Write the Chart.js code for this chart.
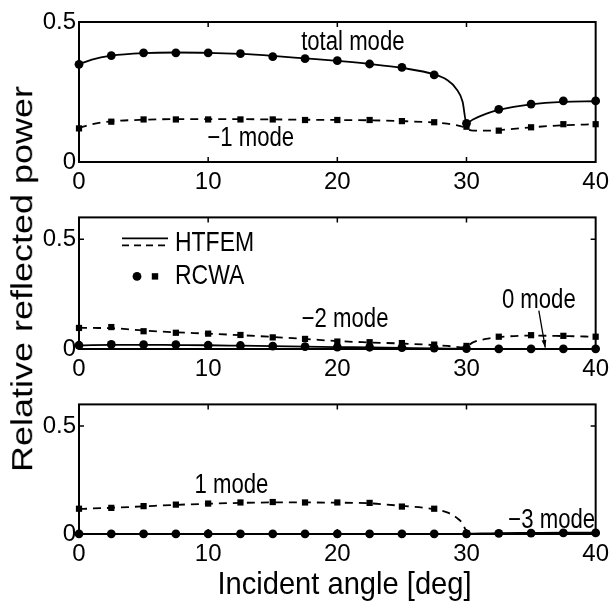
<!DOCTYPE html>
<html>
<head>
<meta charset="utf-8">
<script src="https://cdn.jsdelivr.net/npm/chart.js@4.4.0/dist/chart.umd.min.js"></script>
<style>
  html, body { margin: 0; padding: 0; background: #fff; }
  body { width: 615px; height: 608px; position: relative; overflow: hidden; }
  canvas { position: absolute; left: 0; }
  #ylabel {
    position: absolute; left: -187.5px; top: 261px; width: 420px; height: 36px;
    line-height: 36px; text-align: center; white-space: nowrap;
    font-family: "Liberation Sans", Arial, sans-serif; font-size: 36px; color: #000;
    transform: rotate(-90deg) scale(1, 0.8);
  }
  #xlabel {
    position: absolute; left: 37px; top: 567px; width: 615px; height: 32px;
    line-height: 32px; text-align: center; white-space: nowrap;
    font-family: "Liberation Sans", Arial, sans-serif; font-size: 32px; color: #000;
    transform: scale(0.91, 1);
  }
</style>
</head>
<body>
<canvas id="top" width="615" height="200" style="top:0px;width:615px;height:200px"></canvas>
<canvas id="mid" width="615" height="187" style="top:200px;width:615px;height:187px"></canvas>
<canvas id="bot" width="615" height="221" style="top:387px;width:615px;height:221px"></canvas>
<div id="ylabel">Relative reflected power</div>
<div id="xlabel">Incident angle [deg]</div>
<script>
// angles (deg)
const rcwaAngles = [0, 2.5, 5, 7.5, 10, 12.5, 15, 17.5, 20, 22.5, 25, 27.5, 30, 32.5, 35, 37.5, 40];
const htfemAngles = [0, 1, 2.5, 5, 7.5, 10, 12.5, 15, 17.5, 20, 22.5, 25, 27.5, 28.5, 29.2, 29.7, 30, 30.5, 31.5, 32.5, 35, 37.5, 40];
const xTicks = [0, 10, 20, 30, 40];
const yTicks = [0, 0.5];

// top panel: total and -1 modes
const totalHtfem = [0.349, 0.366, 0.380, 0.389, 0.391, 0.390, 0.386, 0.379, 0.370, 0.361, 0.350, 0.336, 0.313, 0.293, 0.262, 0.215, 0.138, 0.152, 0.172, 0.186, 0.206, 0.215, 0.217];
const totalRcwa = [0.349, 0.380, 0.390, 0.390, 0.390, 0.387, 0.376, 0.369, 0.362, 0.350, 0.338, 0.311, 0.138, 0.188, 0.207, 0.218, 0.218];
const minus1Htfem = [0.122, 0.135, 0.145, 0.151, 0.153, 0.153, 0.153, 0.152, 0.151, 0.150, 0.149, 0.146, 0.141, 0.137, 0.132, 0.126, 0.118, 0.112, 0.112, 0.114, 0.124, 0.131, 0.135];
const minus1Rcwa = [0.120, 0.144, 0.152, 0.152, 0.152, 0.152, 0.152, 0.150, 0.150, 0.150, 0.146, 0.142, 0.126, 0.112, 0.124, 0.135, 0.135];

// middle panel: -2 and 0 modes
const minus2Htfem = [0.097, 0.096, 0.095, 0.084, 0.076, 0.070, 0.063, 0.055, 0.046, 0.036, 0.030, 0.025, 0.018, 0.014, 0.010, 0.007, 0.010, 0.030, 0.046, 0.054, 0.061, 0.059, 0.056];
const minus2Rcwa = [0.096, 0.100, 0.081, 0.074, 0.070, 0.064, 0.053, 0.046, 0.034, 0.031, 0.027, 0.020, 0.014, 0.056, 0.063, 0.060, 0.056];
const zeroHtfem = [0.016, 0.018, 0.019, 0.019, 0.018, 0.017, 0.015, 0.013, 0.011, 0.009, 0.007, 0.005, 0.003, 0.002, 0.002, 0.001, 0.001, 0.001, 0.001, 0.001, 0.001, 0.001, 0.001];
const zeroRcwa = [0.017, 0.021, 0.020, 0.020, 0.017, 0.016, 0.013, 0.011, 0.009, 0.008, 0.006, 0.004, 0.002, 0.001, 0.001, 0.001, 0.001];

// bottom panel: 1 and -3 modes (1 mode ends at 30 deg)
const plus1Htfem = [0.115, 0.118, 0.121, 0.128, 0.135, 0.140, 0.144, 0.146, 0.146, 0.145, 0.142, 0.130, 0.115, 0.100, 0.077, 0.048, 0.008];
const plus1Rcwa = [0.117, 0.121, 0.129, 0.136, 0.141, 0.146, 0.148, 0.146, 0.146, 0.144, 0.127, 0.117, 0.003];
const minus3Htfem = [0.001, 0.001, 0.001, 0.001, 0.001, 0.001, 0.001, 0.001, 0.001, 0.001, 0.001, 0.001, 0.001, 0.001, 0.001, 0.001, 0.001, 0.002, 0.003, 0.004, 0.005, 0.006, 0.006];
const minus3Rcwa = [0.001, 0.001, 0.001, 0.001, 0.001, 0.001, 0.001, 0.001, 0.001, 0.001, 0.001, 0.001, 0.001, 0.003, 0.004, 0.005, 0.005];

const FONT = '"Liberation Sans", Arial, sans-serif';

function pairs(xs, ys) {
    return ys.map((y, i) => ({ x: xs[i], y }));
}

function curve(ys, dashed) {
    return {
        data: pairs(htfemAngles, ys),
        borderColor: '#000',
        borderWidth: 1.8,
        borderDash: dashed ? [8, 6] : [],
        pointRadius: 0,
        cubicInterpolationMode: 'monotone',
        clip: false
    };
}

function marks(ys, style) {
    return {
        data: pairs(rcwaAngles, ys),
        showLine: false,
        pointStyle: style,
        pointRadius: 4.4,
        backgroundColor: '#000',
        borderColor: '#000',
        borderWidth: 0,
        clip: false
    };
}

// condensed text, like the squeezed lettering of the original figure
function narrowText(ctx, text, x, y, size, align) {
    const sx = 0.82;
    ctx.save();
    ctx.font = size + 'px ' + FONT;
    ctx.textAlign = align;
    ctx.textBaseline = 'middle';
    ctx.translate(x, y);
    ctx.scale(sx, 1);
    ctx.fillText(text, 0, 0);
    ctx.restore();
}

// box, inward ticks, mode labels, legend and arrow
const decor = {
    id: 'decor',
    afterDatasetsDraw(chart, args, opts) {
        const ctx = chart.ctx;
        const a = chart.chartArea;
        const xs = chart.scales.x, ys = chart.scales.y;
        ctx.save();
        ctx.strokeStyle = '#000';
        ctx.fillStyle = '#000';
        ctx.lineWidth = 2;
        ctx.setLineDash([]);
        ctx.strokeRect(a.left, a.top, a.right - a.left, a.bottom - a.top);
        ctx.lineWidth = 1.5;
        ctx.beginPath();
        xTicks.slice(1, -1).forEach(v => {
            const px = xs.getPixelForValue(v);
            ctx.moveTo(px, a.bottom); ctx.lineTo(px, a.bottom - 5);
            ctx.moveTo(px, a.top); ctx.lineTo(px, a.top + 5);
        });
        yTicks.slice(1).forEach(v => {
            const py = ys.getPixelForValue(v);
            ctx.moveTo(a.left, py); ctx.lineTo(a.left + 5, py);
            ctx.moveTo(a.right, py); ctx.lineTo(a.right - 5, py);
        });
        ctx.stroke();

        (opts.labels || []).forEach(l => {
            narrowText(ctx, l.text, xs.getPixelForValue(l.x), ys.getPixelForValue(l.y), 27, 'center');
        });

        if (opts.arrow) {
            const [x0, y0, x1, y1] = opts.arrow;
            const p0 = [xs.getPixelForValue(x0), ys.getPixelForValue(y0)];
            const p1 = [xs.getPixelForValue(x1), ys.getPixelForValue(y1)];
            ctx.lineWidth = 1.3;
            ctx.beginPath();
            ctx.moveTo(p0[0], p0[1]); ctx.lineTo(p1[0], p1[1]);
            ctx.stroke();
            const ang = Math.atan2(p1[1] - p0[1], p1[0] - p0[0]);
            ctx.beginPath();
            ctx.moveTo(p1[0], p1[1]);
            ctx.lineTo(p1[0] - 8 * Math.cos(ang - 0.3), p1[1] - 8 * Math.sin(ang - 0.3));
            ctx.lineTo(p1[0] - 8 * Math.cos(ang + 0.3), p1[1] - 8 * Math.sin(ang + 0.3));
            ctx.closePath();
            ctx.fill();
        }

        if (opts.legend) {
            const L = a.left, T = a.top;
            ctx.lineWidth = 1.8;
            ctx.beginPath();
            ctx.moveTo(L + 43, T + 21); ctx.lineTo(L + 89, T + 21);
            ctx.stroke();
            ctx.setLineDash([7, 5]);
            ctx.beginPath();
            ctx.moveTo(L + 43, T + 28); ctx.lineTo(L + 89, T + 28);
            ctx.stroke();
            ctx.setLineDash([]);
            ctx.beginPath();
            ctx.arc(L + 58, T + 59, 4.4, 0, Math.PI * 2);
            ctx.fill();
            ctx.fillRect(L + 76 - 3.2, T + 59 - 3.2, 6.4, 6.4);
            narrowText(ctx, 'HTFEM', L + 96, T + 26, 28, 'left');
            narrowText(ctx, 'RCWA', L + 96, T + 59, 28, 'left');
        }
        ctx.restore();
    }
};

function makeChart(id, ymax, padTop, xHeight, datasets, decorOpts) {
    return new Chart(document.getElementById(id), {
        type: 'line',
        data: { datasets },
        plugins: [decor],
        options: {
            responsive: false,
            animation: false,
            events: [],
            layout: { padding: { top: padTop, right: 14, left: 0, bottom: 0 } },
            plugins: {
                legend: { display: false },
                tooltip: { enabled: false },
                decor: decorOpts
            },
            scales: {
                x: {
                    type: 'linear', min: 0, max: 40,
                    grid: { display: false, drawTicks: false },
                    border: { display: false },
                    afterBuildTicks: s => { s.ticks = xTicks.map(v => ({ value: v })); },
                    afterFit: s => { s.height = xHeight; },
                    ticks: { color: '#000', padding: 6, maxRotation: 0, autoSkip: false,
                             font: { family: FONT, size: 24 } }
                },
                y: {
                    min: 0, max: ymax,
                    grid: { display: false, drawTicks: false },
                    border: { display: false },
                    afterBuildTicks: s => { s.ticks = yTicks.map(v => ({ value: v })); },
                    afterFit: s => { s.width = 79; },
                    ticks: { color: '#000', padding: 3, callback: v => String(v),
                             font: { family: FONT, size: 24 } }
                }
            }
        }
    });
}

makeChart('top', 0.5, 22, 38, [
    curve(totalHtfem, false),
    curve(minus1Htfem, true),
    marks(totalRcwa, 'circle'),
    marks(minus1Rcwa, 'rect')
], {
    labels: [
        { text: 'total mode', x: 21.2, y: 0.425 },
        { text: '\u22121 mode', x: 13.3, y: 0.082 }
    ]
});

makeChart('mid', 0.6, 9, 38, [
    curve(zeroHtfem, false),
    curve(minus2Htfem, true),
    marks(zeroRcwa, 'circle'),
    marks(minus2Rcwa, 'rect')
], {
    labels: [
        { text: '\u22122 mode', x: 20.6, y: 0.133 },
        { text: '0 mode', x: 35.6, y: 0.223 }
    ],
    arrow: [35.6, 0.175, 36.1, 0.006],
    legend: true
});

makeChart('bot', 0.6, 7, 74, [
    curve(minus3Htfem, false),
    curve(plus1Htfem, true),
    marks(minus3Rcwa, 'circle'),
    marks(plus1Rcwa, 'rect')
], {
    labels: [
        { text: '1 mode', x: 11.8, y: 0.223 },
        { text: '\u22123 mode', x: 36.6, y: 0.064 }
    ]
});
</script>
</body>
</html>
